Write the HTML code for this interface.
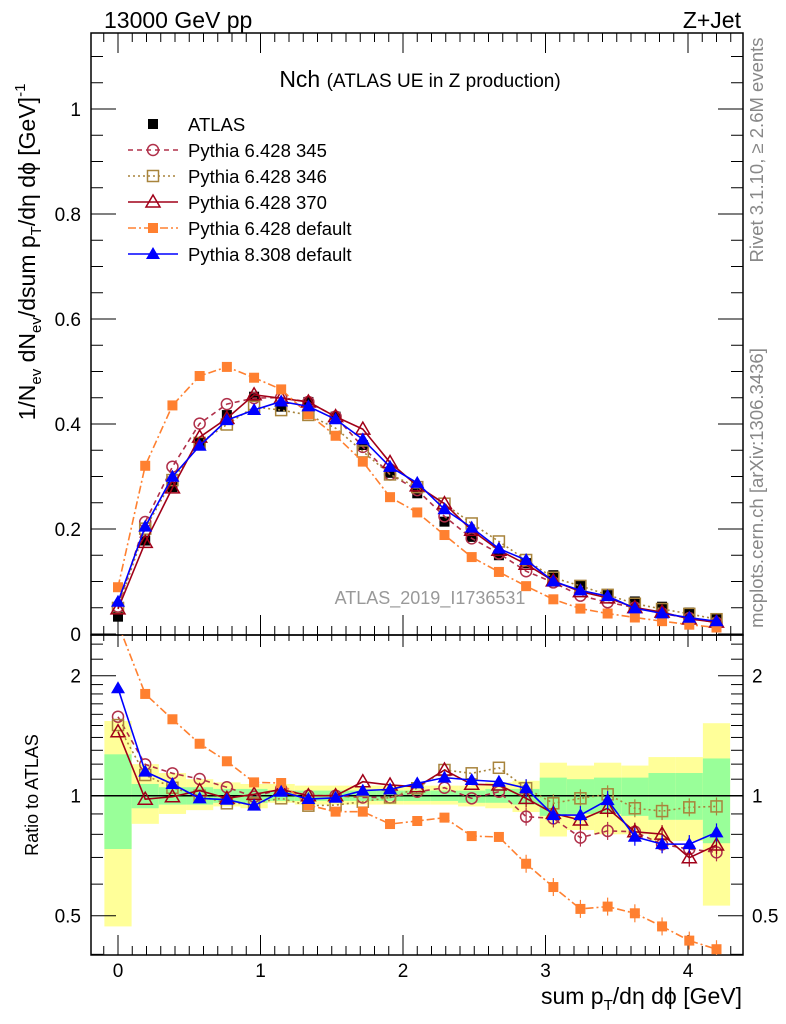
<!DOCTYPE html>
<html><head><meta charset="utf-8"><style>
html,body{margin:0;padding:0;background:#fff;}
svg{display:block;font-family:"Liberation Sans","DejaVu Sans",sans-serif;}
</style></head><body>
<svg id="chart" width="786" height="1024" viewBox="0 0 786 1024" xmlns="http://www.w3.org/2000/svg">
<text x="104" y="28" font-size="23">13000 GeV pp</text>
<text x="741" y="28" font-size="23" text-anchor="end">Z+Jet</text>
<text x="420" y="87" font-size="23" text-anchor="middle">Nch <tspan font-size="19">(ATLAS UE in Z production)</tspan></text>
<text x="430" y="604" font-size="18" fill="#999" text-anchor="middle">ATLAS_2019_I1736531</text>
<text transform="translate(763,150) rotate(-90)" font-size="18.5" fill="#888" text-anchor="middle">Rivet 3.1.10, ≥ 2.6M events</text>
<text transform="translate(763,488) rotate(-90)" font-size="18.5" fill="#888" text-anchor="middle">mcplots.cern.ch [arXiv:1306.3436]</text>
<text transform="translate(35,252) rotate(-90)" font-size="23" text-anchor="middle">1/N<tspan font-size="15" dy="6">ev</tspan><tspan dy="-6"> dN</tspan><tspan font-size="15" dy="6">ev</tspan><tspan dy="-6">/dsum p</tspan><tspan font-size="15" dy="6">T</tspan><tspan dy="-6">/dη dϕ  [GeV]</tspan><tspan font-size="15" dy="-10">-1</tspan></text>
<text transform="translate(38,795) rotate(-90)" font-size="18" text-anchor="middle">Ratio to ATLAS</text>
<text x="742" y="1004" font-size="23" text-anchor="end">sum p<tspan font-size="15" dy="6">T</tspan><tspan dy="-6">/dη dϕ [GeV]</tspan></text>
<g id="g"></g>
</svg>
<script>
const xs = [0,0.191,0.382,0.573,0.764,0.955,1.145,1.336,1.527,1.718,1.909,2.1,2.291,2.482,2.673,2.864,3.055,3.245,3.436,3.627,3.818,4.009,4.2];
const atlas = [0.033,0.178,0.28,0.364,0.417,0.452,0.433,0.442,0.414,0.36,0.307,0.268,0.214,0.185,0.150,0.135,0.112,0.093,0.074,0.062,0.052,0.041,0.030];
const r345 = [1.578,1.198,1.138,1.101,1.05,0.994,1.04,1.0,1.0,0.99,0.99,1.023,1.047,0.985,1.023,0.886,0.877,0.785,0.816,0.812,0.755,0.735,0.721];
const r346 = [1.504,1.127,1.047,1.0,0.957,0.957,0.985,0.944,0.947,0.966,0.99,1.044,1.16,1.138,1.175,1.044,0.957,0.985,1.008,0.93,0.915,0.935,0.94];
const r370 = [1.447,0.98,0.994,1.03,0.985,1.008,1.037,1.0,1.0,1.084,1.064,1.053,1.16,1.068,1.064,0.985,0.903,0.869,0.93,0.812,0.801,0.699,0.752];
const rdef = [2.7,1.80,1.555,1.35,1.22,1.08,1.076,0.947,0.912,0.912,0.849,0.864,0.881,0.792,0.788,0.675,0.59,0.52,0.527,0.507,0.47,0.433,0.412];
const rp8 = [1.86,1.149,1.07,0.985,0.977,0.944,1.023,0.981,0.988,1.03,1.037,1.074,1.11,1.095,1.084,1.044,0.894,0.894,0.975,0.789,0.756,0.756,0.809];
const yelHi = [1.54,1.20,1.14,1.10,1.08,1.07,1.07,1.06,1.06,1.06,1.06,1.06,1.06,1.06,1.08,1.09,1.21,1.19,1.21,1.19,1.25,1.25,1.52];
const yelLo = [0.47,0.85,0.90,0.92,0.94,0.93,0.96,0.95,0.95,0.95,0.95,0.95,0.95,0.94,0.93,0.91,0.79,0.82,0.80,0.80,0.77,0.77,0.53];
const grnHi = [1.27,1.07,1.05,1.05,1.04,1.04,1.03,1.03,1.03,1.03,1.03,1.03,1.03,1.03,1.04,1.04,1.11,1.10,1.11,1.11,1.14,1.14,1.24];
const grnLo = [0.735,0.93,0.95,0.95,0.96,0.96,0.97,0.97,0.97,0.97,0.97,0.97,0.97,0.96,0.96,0.95,0.89,0.90,0.90,0.89,0.87,0.87,0.76];
const mainTicks = ["0","0.2","0.4","0.6","0.8","1"];
const xTicks = ["0","1","2","3","4"];
const ratioTicks = ["0.5","1","2"];

const NS="http://www.w3.org/2000/svg";
const G=document.getElementById('g');
function el(t,a,p){const e=document.createElementNS(NS,t);for(const k in a)e.setAttribute(k,a[k]);(p||G).appendChild(e);return e;}
const L=91,R=743,T=33,MB=635,RB=955;
const X=v=>118+v*142.5;
const Y=v=>634-v*525;
const YR=r=>795.7-120*Math.log2(r);

const half=0.0955;
for(let i=0;i<xs.length;i++){
  const x0=X(Math.max(xs[i]-half,-0.18)), x1=X(xs[i]+half);
  const yb=el('rect',{x:x0,y:YR(yelHi[i]),width:x1-x0,height:YR(yelLo[i])-YR(yelHi[i]),fill:'#ffff99'});
  
  
  const gb=el('rect',{x:x0,y:YR(grnHi[i]),width:x1-x0,height:YR(grnLo[i])-YR(grnHi[i]),fill:'#99ff99'});
  
  
}
el('line',{x1:L,x2:R,y1:YR(1),y2:YR(1),stroke:'#000','stroke-width':1.5});

const f1=el('rect',{x:L,y:T,width:R-L,height:MB-T,fill:'none',stroke:'#000','stroke-width':1.5});


const f2=el('rect',{x:L,y:MB,width:R-L,height:RB-MB,fill:'none',stroke:'#000','stroke-width':1.5});



for(let k=-1;k<=44;k++){const v=k*0.1,x=X(v);if(x<L||x>R)continue;const big=k%10===0;const len=big?20:9;
  el('line',{x1:x,x2:x,y1:MB,y2:MB-len,stroke:'#000'});el('line',{x1:x,x2:x,y1:T,y2:T+len,stroke:'#000'});
  el('line',{x1:x,x2:x,y1:MB,y2:MB+(big?12:6),stroke:'#000'});el('line',{x1:x,x2:x,y1:RB,y2:RB-(big?20:9),stroke:'#000'});}
xTicks.forEach((t,i)=>{const tx=el('text',{x:X(+t),y:977,'font-size':19,'text-anchor':'middle'});tx.textContent=t;
  
  });
for(let k=0;k<=22;k++){const v=k*0.05,y=Y(v);if(y<T)continue;const big=k%4===0;const len=big?25:12;
  el('line',{x1:L,x2:L+len,y1:y,y2:y,stroke:'#000'});el('line',{x1:R,x2:R-len,y1:y,y2:y,stroke:'#000'});}
mainTicks.forEach(t=>{const tx=el('text',{x:81,y:Y(+t)+7,'font-size':19,'text-anchor':'end'});tx.textContent=t;
  
  });
[0.4,0.5,0.6,0.7,0.8,0.9,1,1.1,1.2,1.3,1.4,1.5,1.6,1.7,1.8,1.9,2,2.2,2.4].forEach(v=>{const y=YR(v);if(y<MB||y>RB)return;const big=[0.5,1,2].includes(v);const len=big?25:12;
  el('line',{x1:L,x2:L+len,y1:y,y2:y,stroke:'#000'});el('line',{x1:R,x2:R-len,y1:y,y2:y,stroke:'#000'});});
ratioTicks.forEach(t=>{const a=el('text',{x:81,y:YR(+t)+7,'font-size':19,'text-anchor':'end'});a.textContent=t;
  
  
  const b=el('text',{x:752,y:YR(+t)+7,'font-size':19});b.textContent=t;
  
  });

function marker(type,color,x,y,parent){
  if(type==='fsq')return el('rect',{x:x-5,y:y-5,width:10,height:10,fill:color},parent);
  if(type==='osq')return el('rect',{x:x-5.5,y:y-5.5,width:11,height:11,fill:'none',stroke:color,'stroke-width':1.5},parent);
  if(type==='oc')return el('circle',{cx:x,cy:y,r:5.5,fill:'none',stroke:color,'stroke-width':1.5},parent);
  if(type==='otri')return el('polygon',{points:`${x},${y-7} ${x-7},${y+5} ${x+7},${y+5}`,fill:'none',stroke:color,'stroke-width':1.5},parent);
  if(type==='ftri')return el('polygon',{points:`${x},${y-7} ${x-7},${y+5} ${x+7},${y+5}`,fill:color},parent);
}
const series=[
 {name:'Pythia 6.428 345',r:r345,color:'#b0304a',dash:'5,4',m:'oc',id:'pythia6-345'},
 {name:'Pythia 6.428 346',r:r346,color:'#a8843c',dash:'2,3',m:'osq',id:'pythia6-346'},
 {name:'Pythia 6.428 370',r:r370,color:'#a00018',dash:'',m:'otri',id:'pythia6-370'},
 {name:'Pythia 6.428 default',r:rdef,color:'#ff8030',dash:'8,3,2,3',m:'fsq',id:'pythia6-default'},
 {name:'Pythia 8.308 default',r:rp8,color:'#0000ff',dash:'',m:'ftri',id:'pythia8-default'}];

const ga=el('g',{});


atlas.forEach((v,i)=>{const m=marker('fsq','#000',X(xs[i]),Y(v),ga);
  
  });

series.forEach(s=>{
  const gm=el('g',{});
  
  
  const pts=s.r.map((r,i)=>[X(xs[i]),Y(r*atlas[i])]);
  el('polyline',{points:pts.map(p=>p.join(',')).join(' '),fill:'none',stroke:s.color,'stroke-width':1.6,'stroke-dasharray':s.dash},gm);
  pts.forEach(p=>{const m=marker(s.m,s.color,p[0],p[1],gm);
    
    });
  const gr=el('g',{});
  
  
  const cp=el('clipPath',{id:'c'+s.id});el('rect',{x:L,y:MB,width:R-L,height:RB-MB},cp);
  gr.setAttribute('clip-path','url(#c'+s.id+')');
  const rp=s.r.map((r,i)=>[X(xs[i]),YR(r)]);
  el('polyline',{points:rp.map(p=>p.join(',')).join(' '),fill:'none',stroke:s.color,'stroke-width':1.6,'stroke-dasharray':s.dash},gr);
  rp.forEach((p,i)=>{if(p[1]<MB)return;
    if(i>14){el('line',{x1:p[0],x2:p[0],y1:p[1]-9,y2:p[1]+9,stroke:s.color,'stroke-width':1.2},gr);}
    const m=marker(s.m,s.color,p[0],p[1],gr);
    
    });
});

const lg=el('g',{});


const ly0=124, ldy=26;
const e0=el('g',{},lg);


marker('fsq','#000',153,ly0,e0);
const t0=el('text',{x:188,y:ly0+7,'font-size':18.5},e0);t0.textContent='ATLAS';
series.forEach((s,k)=>{const y=ly0+ldy*(k+1);const e=el('g',{},lg);
  
  
  el('line',{x1:128,x2:178,y1:y,y2:y,stroke:s.color,'stroke-width':1.4,'stroke-dasharray':s.dash},e);
  marker(s.m,s.color,153,y,e);
  const t=el('text',{x:188,y:y+7,'font-size':18.5},e);t.textContent=s.name;});
</script>
</body></html>
